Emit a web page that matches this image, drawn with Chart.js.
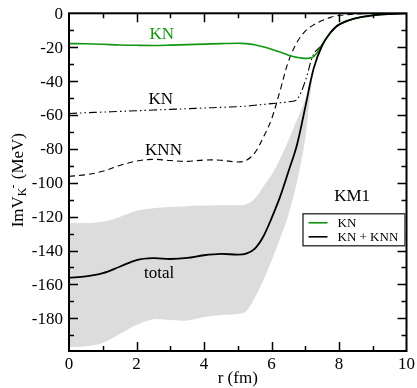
<!DOCTYPE html>
<html>
<head>
<meta charset="utf-8">
<script src="https://cdn.jsdelivr.net/npm/chart.js@4.4.0/dist/chart.umd.min.js"></script>
<style>
html,body{margin:0;padding:0;background:#fff;}
#wrap{width:417px;height:388px;}
</style>
</head>
<body>
<div id="wrap"><canvas id="potential"></canvas></div>
<script>
// radial grid, fm
const rGrid = [0,0.5,1,1.5,2,2.5,3,3.5,4,4.5,5,5.25,5.5,5.75,6,6.25,6.5,6.75,7,7.25,7.5,7.75,8,8.5,9,9.5,10];

// Im V (MeV) on rGrid
const knOnly   = [-17.9,-18.0,-18.3,-18.7,-18.9,-19.0,-18.8,-18.5,-18.2,-17.9,-17.7,-17.9,-18.6,-19.8,-21.2,-22.9,-24.7,-26.0,-26.6,-25.5,-18.5,-11.3,-6.7,-2.9,-1.2,-0.4,0];
const knPart   = [-59.1,-58.7,-58.3,-57.9,-57.5,-57.1,-56.7,-56.3,-55.9,-55.5,-55.1,-54.8,-54.3,-53.8,-53.3,-52.8,-52.2,-51.0,-40.0,-24.0,-18.5,-11.3,-6.7,-2.9,-1.2,-0.4,0];
const knnPart  = [-96.2,-95.3,-93.2,-89.8,-87.2,-86.2,-86.9,-87.4,-86.6,-86.7,-87.8,-86.8,-82.5,-73.5,-62.5,-46.0,-28.5,-17.3,-10.5,-6.8,-4.3,-2.4,-1.3,-0.4,-0.1,0,0];
const total    = [-156.0,-155.3,-153.4,-149.6,-145.6,-144.5,-145.0,-144.4,-142.8,-142.0,-142.4,-141.8,-139.0,-132.0,-121.0,-108.5,-93.5,-78.0,-55.5,-32.5,-19.0,-11.3,-6.7,-2.9,-1.2,-0.4,0];
const bandHigh = [-123.8,-123.8,-123.0,-120.2,-116.6,-115.0,-114.3,-113.8,-113.5,-113.3,-113.3,-112.8,-109.5,-102.5,-95.5,-86.0,-75.0,-63.0,-51.0,-32.5,-19.0,-11.3,-6.7,-2.9,-1.2,-0.4,0];
const bandLow  = [-197.0,-196.5,-194.6,-189.3,-184.0,-180.6,-181.0,-181.3,-179.2,-178.0,-177.4,-175.8,-168.0,-158.0,-146.0,-133.0,-119.0,-100.0,-74.0,-34.0,-19.0,-11.3,-6.7,-2.9,-1.2,-0.4,0];

const xMajor = [0,2,4,6,8,10];
const xMinor = [1,3,5,7,9];
const yMajor = [0,-20,-40,-60,-80,-100,-120,-140,-160,-180];
const yMinor = [-10,-30,-50,-70,-90,-110,-130,-150,-170,-190];

// curve labels placed in data units
const curveLabels = [
  {text:'KN',    r:2.75, v:-15.0, color:'#119611'},
  {text:'KN',    r:2.72, v:-53.5, color:'#000'},
  {text:'KNN',   r:2.80, v:-83.5, color:'#000'},
  {text:'total', r:2.67, v:-156.0, color:'#000'},
  {text:'KM1',   r:8.39, v:-110.5, color:'#000'}
];

const legendItems = [
  {text:'KN', color:'#119611'},
  {text:'KN + KNN', color:'#000'}
];

const GREEN = '#119611';
const SERIF = '"Liberation Serif", "DejaVu Serif", serif';

function pts(vals){
  return rGrid.map((r,i) => ({x:r, y:vals[i]}));
}

// axes box, inward ticks, tick labels, titles, text labels, legend
const frame = {
  id: 'frame',
  afterDraw(chart){
    const {ctx, chartArea: a, scales: {x, y}} = chart;
    ctx.save();
    ctx.strokeStyle = '#000';
    ctx.lineWidth = 2;
    ctx.strokeRect(a.left, a.top, a.right - a.left, a.bottom - a.top);

    ctx.lineWidth = 1.5;
    ctx.beginPath();
    const tickX = (vals, len) => vals.forEach(v => {
      const px = Math.round(x.getPixelForValue(v)) + 0.5;
      ctx.moveTo(px, a.bottom); ctx.lineTo(px, a.bottom - len);
      ctx.moveTo(px, a.top);    ctx.lineTo(px, a.top + len);
    });
    const tickY = (vals, len) => vals.forEach(v => {
      const py = Math.round(y.getPixelForValue(v)) + 0.5;
      ctx.moveTo(a.left, py);  ctx.lineTo(a.left + len, py);
      ctx.moveTo(a.right, py); ctx.lineTo(a.right - len, py);
    });
    tickX(xMajor.slice(1, -1), 9); tickX(xMinor, 5);
    tickY(yMajor.slice(1), 9);     tickY(yMinor, 5);
    ctx.stroke();

    ctx.fillStyle = '#000';
    ctx.font = '17px ' + SERIF;
    ctx.textAlign = 'center';
    ctx.textBaseline = 'alphabetic';
    xMajor.forEach(v => ctx.fillText(String(v), x.getPixelForValue(v), a.bottom + 18));
    ctx.textAlign = 'right';
    yMajor.forEach(v => ctx.fillText(String(v), a.left - 6, y.getPixelForValue(v) + 5.5));

    // x title
    ctx.textAlign = 'center';
    ctx.fillText('r (fm)', (a.left + a.right) / 2, a.bottom + 32);

    // y title: ImV with subscript K and superscript minus
    ctx.save();
    ctx.translate(22.5, (a.top + a.bottom) / 2 - 2);
    ctx.rotate(-Math.PI / 2);
    ctx.textAlign = 'left';
    const big = '17px ' + SERIF, small = '12px ' + SERIF;
    ctx.font = big;   const w1 = ctx.measureText('ImV').width;
    ctx.font = small; const w2 = ctx.measureText('K').width;
    const w3 = ctx.measureText('-').width;
    ctx.font = big;   const w4 = ctx.measureText(' (MeV)').width;
    let cx = -(w1 + w2 + w3 + w4) / 2;
    ctx.font = big;   ctx.fillText('ImV', cx, 0); cx += w1;
    ctx.font = small; ctx.fillText('K', cx, 3.5); cx += w2;
    ctx.fillText('-', cx - 1, -6); cx += w3;
    ctx.font = big;   ctx.fillText(' (MeV)', cx, 0);
    ctx.restore();

    // curve labels
    ctx.font = '17px ' + SERIF;
    ctx.textAlign = 'center';
    curveLabels.forEach(l => {
      ctx.fillStyle = l.color;
      ctx.fillText(l.text, x.getPixelForValue(l.r), y.getPixelForValue(l.v));
    });

    // legend box
    const bx = a.right - 104, by = a.top + 200, bw = 103, bh = 33;
    ctx.fillStyle = '#fff';
    ctx.fillRect(bx, by, bw, bh);
    ctx.strokeStyle = '#222';
    ctx.lineWidth = 1.3;
    ctx.strokeRect(bx + 0.5, by + 0.5, bw - 1, bh - 1);
    ctx.font = '13px ' + SERIF;
    ctx.textAlign = 'left';
    legendItems.forEach((it, i) => {
      const ly = by + 9.5 + i * 14;
      ctx.strokeStyle = it.color;
      ctx.lineWidth = 1.6;
      ctx.beginPath();
      ctx.moveTo(bx + 6, ly); ctx.lineTo(bx + 25, ly);
      ctx.stroke();
      ctx.fillStyle = '#000';
      ctx.fillText(it.text, bx + 35, ly + 4.5);
    });
    ctx.restore();
  }
};

const line = (vals, color, width, dash, extra) => Object.assign({
  data: pts(vals),
  borderColor: color,
  borderWidth: width,
  borderDash: dash,
  pointRadius: 0,
  fill: false,
  tension: 0.35
}, extra || {});

new Chart(document.getElementById('potential'), {
  type: 'line',
  data: {
    datasets: [
      line(total, '#000', 1.8, []),
      line(knOnly, GREEN, 1.6, []),
      line(knnPart, '#000', 1.1, [6, 4]),
      line(knPart, '#000', 1.1, [8, 3, 1.5, 3, 1.5, 3]),
      line(bandHigh, 'rgba(0,0,0,0)', 0, [], {fill: '+1', backgroundColor: '#dcdcdc', order: 5}),
      line(bandLow, 'rgba(0,0,0,0)', 0, [], {order: 5})
    ]
  },
  options: {
    responsive: true,
    maintainAspectRatio: false,
    animation: false,
    layout: {padding: {left: 69, right: 10.5, top: 13.3, bottom: 37}},
    plugins: {legend: {display: false}, tooltip: {enabled: false}},
    scales: {
      x: {type: 'linear', min: 0, max: 10, display: false},
      y: {type: 'linear', min: -199.3, max: 0, display: false}
    }
  },
  plugins: [frame]
});
</script>
</body>
</html>
